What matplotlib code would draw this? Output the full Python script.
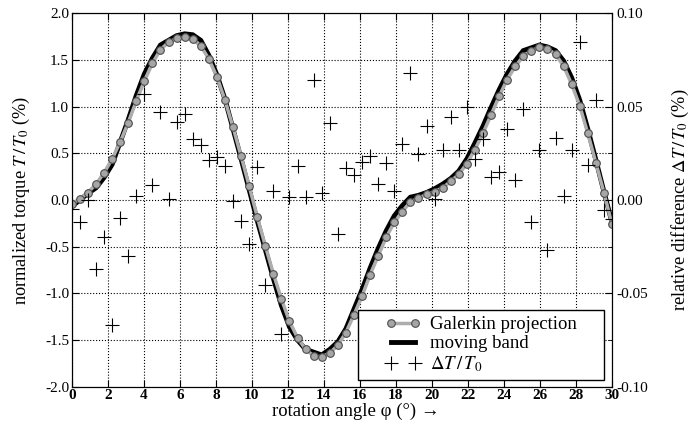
import numpy as np
import matplotlib
matplotlib.use("Agg")
import matplotlib.pyplot as plt
from matplotlib.patches import Rectangle
from matplotlib.ticker import MultipleLocator, FormatStrFormatter

plt.rcParams['font.family'] = ['Liberation Serif', 'DejaVu Serif']
plt.rcParams['mathtext.fontset'] = 'stix'

# rotation angle (deg), 68 equally spaced samples over 0..30
angles = np.linspace(0, 30, 68)

# normalized torque T/T0 (%) - Galerkin projection
torque_galerkin = [
    -0.04, 0.01, 0.08, 0.17, 0.29, 0.44, 0.62, 0.83, 1.06, 1.275,
    1.465, 1.61, 1.69, 1.73, 1.745, 1.72, 1.65, 1.51, 1.32, 1.07,
    0.78, 0.47, 0.15, -0.18, -0.49, -0.79, -1.06, -1.30, -1.475, -1.60,
    -1.67, -1.68, -1.64, -1.555, -1.42, -1.23, -1.03, -0.80, -0.60, -0.40,
    -0.24, -0.125, -0.02, 0.02, 0.06, 0.09, 0.13, 0.20, 0.275, 0.39,
    0.54, 0.715, 0.91, 1.11, 1.29, 1.43, 1.54, 1.60, 1.635, 1.62,
    1.56, 1.435, 1.24, 1.01, 0.715, 0.40, 0.08, -0.26,
]

# normalized torque T/T0 (%) - moving band
torque_moving_band = [
    -0.07, 0.00, 0.07, 0.13, 0.24, 0.38, 0.62, 0.86, 1.12, 1.35,
    1.52, 1.66, 1.71, 1.76, 1.78, 1.77, 1.71, 1.55, 1.34, 1.08,
    0.76, 0.44, 0.11, -0.22, -0.53, -0.84, -1.13, -1.36, -1.50, -1.60,
    -1.63, -1.66, -1.60, -1.52, -1.38, -1.17, -0.96, -0.73, -0.52, -0.33,
    -0.17, -0.06, 0.03, 0.05, 0.08, 0.12, 0.17, 0.23, 0.31, 0.44,
    0.61, 0.79, 0.99, 1.18, 1.35, 1.49, 1.60, 1.63, 1.66, 1.64,
    1.60, 1.49, 1.31, 1.07, 0.76, 0.43, 0.09, -0.24,
]

# relative difference dT/T0 (%)
rel_diff = [
    -0.005, -0.012, 0.0, -0.037, -0.020, -0.067, -0.0095, -0.030, 0.002, 0.0566,
    0.008, 0.047, 0.0004, 0.042, 0.046, 0.0325, 0.0295, 0.0214, 0.0232, 0.018,
    -0.0004, -0.011, -0.0237, 0.0175, -0.0455, 0.005, -0.072, 0.0014, 0.018, 0.0014,
    0.064, 0.0036, 0.0414, -0.0184, 0.017, 0.0134, 0.0205, 0.0237, 0.0084, 0.020,
    0.0048, 0.030, 0.068, 0.0246, 0.0397, 0.0005, 0.0266, 0.0446, 0.0266, 0.050,
    0.022, 0.0327, 0.0125, 0.0148, 0.038, 0.0107, 0.0488, -0.012, 0.0268, -0.027,
    0.0334, 0.0023, 0.0268, 0.0845, 0.0188, 0.0536, -0.0054, -0.01,
]

fig = plt.figure(figsize=(6.97, 4.23), dpi=100)
ax = fig.add_axes([0.103, 0.0858, 0.775, 0.8828])
ax2 = ax.twinx()

l_mb, = ax.plot(angles, torque_moving_band, color='black', lw=3.5,
                solid_joinstyle='miter', zorder=2, label='moving band')
l_gal, = ax.plot(angles, torque_galerkin, color='0.68', lw=2.5, marker='o',
                 ms=5.5, mfc='0.65', mec='0.3', mew=0.8, zorder=3,
                 label='Galerkin projection')
l_diff, = ax2.plot(angles, rel_diff, ls='none', marker='+', ms=10, mew=0.8,
                   color='black', label=r'$\Delta T\,/\,T_0$')

ax.set_xlim(0, 30)
ax.set_ylim(-2.0, 2.0)
ax2.set_ylim(-0.10, 0.10)

ax.xaxis.set_major_locator(MultipleLocator(2))
ax.yaxis.set_major_locator(MultipleLocator(0.5))
ax.yaxis.set_major_formatter(FormatStrFormatter('%.1f'))
ax2.yaxis.set_major_locator(MultipleLocator(0.05))
ax2.yaxis.set_minor_locator(MultipleLocator(0.025))
ax2.yaxis.set_major_formatter(FormatStrFormatter('%.2f'))

ax.grid(True, color='black', ls=':', lw=0.8)
ax.tick_params(direction='in', top=True, labelsize=11, length=5, pad=2)
ax2.tick_params(direction='in', labelsize=11, length=5, pad=3)
ax2.tick_params(which='minor', direction='in', length=3)
for lab in ax.get_xticklabels():
    lab.set_fontweight('bold')

ax.set_xlabel('rotation angle φ (°) →', fontsize=13.5, labelpad=0.5, x=0.525)
ax.set_ylabel(r'normalized torque $T\,/\,T_0$ (%)', fontsize=13.2, labelpad=9)
ax2.set_ylabel(r'relative difference $\Delta T\,/\,T_0$ (%)', fontsize=13.2,
               labelpad=16)

# legend: fixed box, entries centred inside it
box = (0.53, 0.018, 0.455, 0.187)
ax2.add_patch(Rectangle(box[:2], box[2], box[3], transform=ax2.transAxes,
                        facecolor='white', edgecolor='black', lw=1.0, zorder=5))
leg = ax2.legend([l_gal, l_mb, l_diff],
                 ['Galerkin projection', 'moving band', r'$\Delta T\,/\,T_0$'],
                 loc='center', bbox_to_anchor=box, numpoints=2,
                 fontsize=13.5, frameon=False,
                 handlelength=1.9, handletextpad=0.5, labelspacing=0.1,
                 borderpad=0.2, borderaxespad=0)
leg.set_zorder(6)
leg._legend_box.align = 'left'

fig.savefig('out.png', dpi=100)
